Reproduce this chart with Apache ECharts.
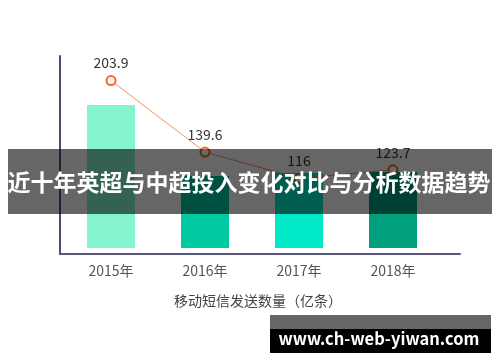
<!DOCTYPE html>
<html>
<head>
<meta charset="utf-8">
<script src="https://cdn.jsdelivr.net/npm/echarts@6/dist/echarts.min.js"></script>
<style>
html,body{margin:0;padding:0;background:#fff;}
#c{width:500px;height:362px;}
</style>
</head>
<body>
<div id="c"></div>
<script>
// ---- data ----
var categories = ['2015年', '2016年', '2017年', '2018年'];
var barValues = [143, 72, 75, 76];          // estimated bar heights (unlabelled)
var lineValues = [203.9, 139.6, 116, 123.7];
var barColors = ['#86f3cf', '#00c9a2', '#00e9c6', '#00a07e'];
var axisTitle = '移动短信发送数量（亿条）';
var bannerText = '近十年英超与中超投入变化对比与分析数据趋势';
var watermarkText = 'www.ch-web-yiwan.com';

var FONT = '"Noto Sans CJK SC", "Noto Sans", sans-serif';
var chart = echarts.init(document.getElementById('c'), null, {renderer: 'canvas'});

var option = {
  animation: false,
  backgroundColor: '#ffffff',
  grid: [
    {left: 64, right: 60, top: 56, bottom: 108},
    {left: 60, right: 40, top: 56, bottom: 108}
  ],
  xAxis: [
    {
      type: 'category', gridIndex: 0, data: categories,
      axisLine: {show: false}, axisTick: {show: false},
      axisLabel: {color: '#555', fontSize: 14, margin: 10, fontFamily: FONT}
    },
    {
      type: 'category', gridIndex: 1, data: categories,
      axisLine: {show: true, lineStyle: {color: '#55577f', width: 2}},
      axisTick: {show: false}, axisLabel: {show: false}
    }
  ],
  yAxis: [
    {type: 'value', gridIndex: 0, min: -6, max: 192, show: false, splitLine: {show: false}},
    {type: 'value', gridIndex: 0, min: 48, max: 226, show: false, splitLine: {show: false}},
    {
      type: 'value', gridIndex: 1, min: 0, max: 100,
      axisLine: {show: true, lineStyle: {color: '#4a4c7c', width: 2}},
      axisTick: {show: false}, axisLabel: {show: false}, splitLine: {show: false}
    }
  ],
  series: [
    {
      type: 'bar', xAxisIndex: 0, yAxisIndex: 0, barWidth: 48,
      data: barValues.map(function (v, i) {
        return {value: v, itemStyle: {color: barColors[i]}};
      })
    },
    {
      type: 'line', xAxisIndex: 0, yAxisIndex: 1, data: lineValues,
      symbol: 'emptyCircle', symbolSize: 9,
      itemStyle: {color: '#f26a2a', borderWidth: 2},
      lineStyle: {color: '#f4915e', width: 1},
      label: {show: true, position: 'top', distance: 5, color: '#333', fontSize: 14, fontFamily: FONT}
    }
  ],
  graphic: [
    {
      type: 'text', x: 258, y: 301,
      style: {text: axisTitle, fill: '#444', font: '14px ' + FONT, textAlign: 'center', textVerticalAlign: 'middle'}
    },
    {
      type: 'rect', shape: {x: 8, y: 149, width: 484, height: 65},
      style: {fill: 'rgba(0,0,0,0.6)'}, z: 100
    },
    {
      type: 'text', x: 249, y: 182, z: 101,
      style: {text: bannerText, fill: '#fff', font: 'bold 23px ' + FONT, textAlign: 'center', textVerticalAlign: 'middle'}
    },
    {
      type: 'rect', shape: {x: 270, y: 315, width: 221, height: 14},
      style: {fill: '#666666'}, z: 100
    },
    {
      type: 'rect', shape: {x: 270, y: 329, width: 221, height: 24},
      style: {fill: '#000000'}, z: 100
    },
    {
      type: 'text', x: 379, y: 339, z: 101,
      style: {text: watermarkText, fill: '#fff', font: 'bold 16.5px ' + FONT, textAlign: 'center', textVerticalAlign: 'middle'}
    }
  ]
};
chart.setOption(option);
</script>
</body>
</html>
